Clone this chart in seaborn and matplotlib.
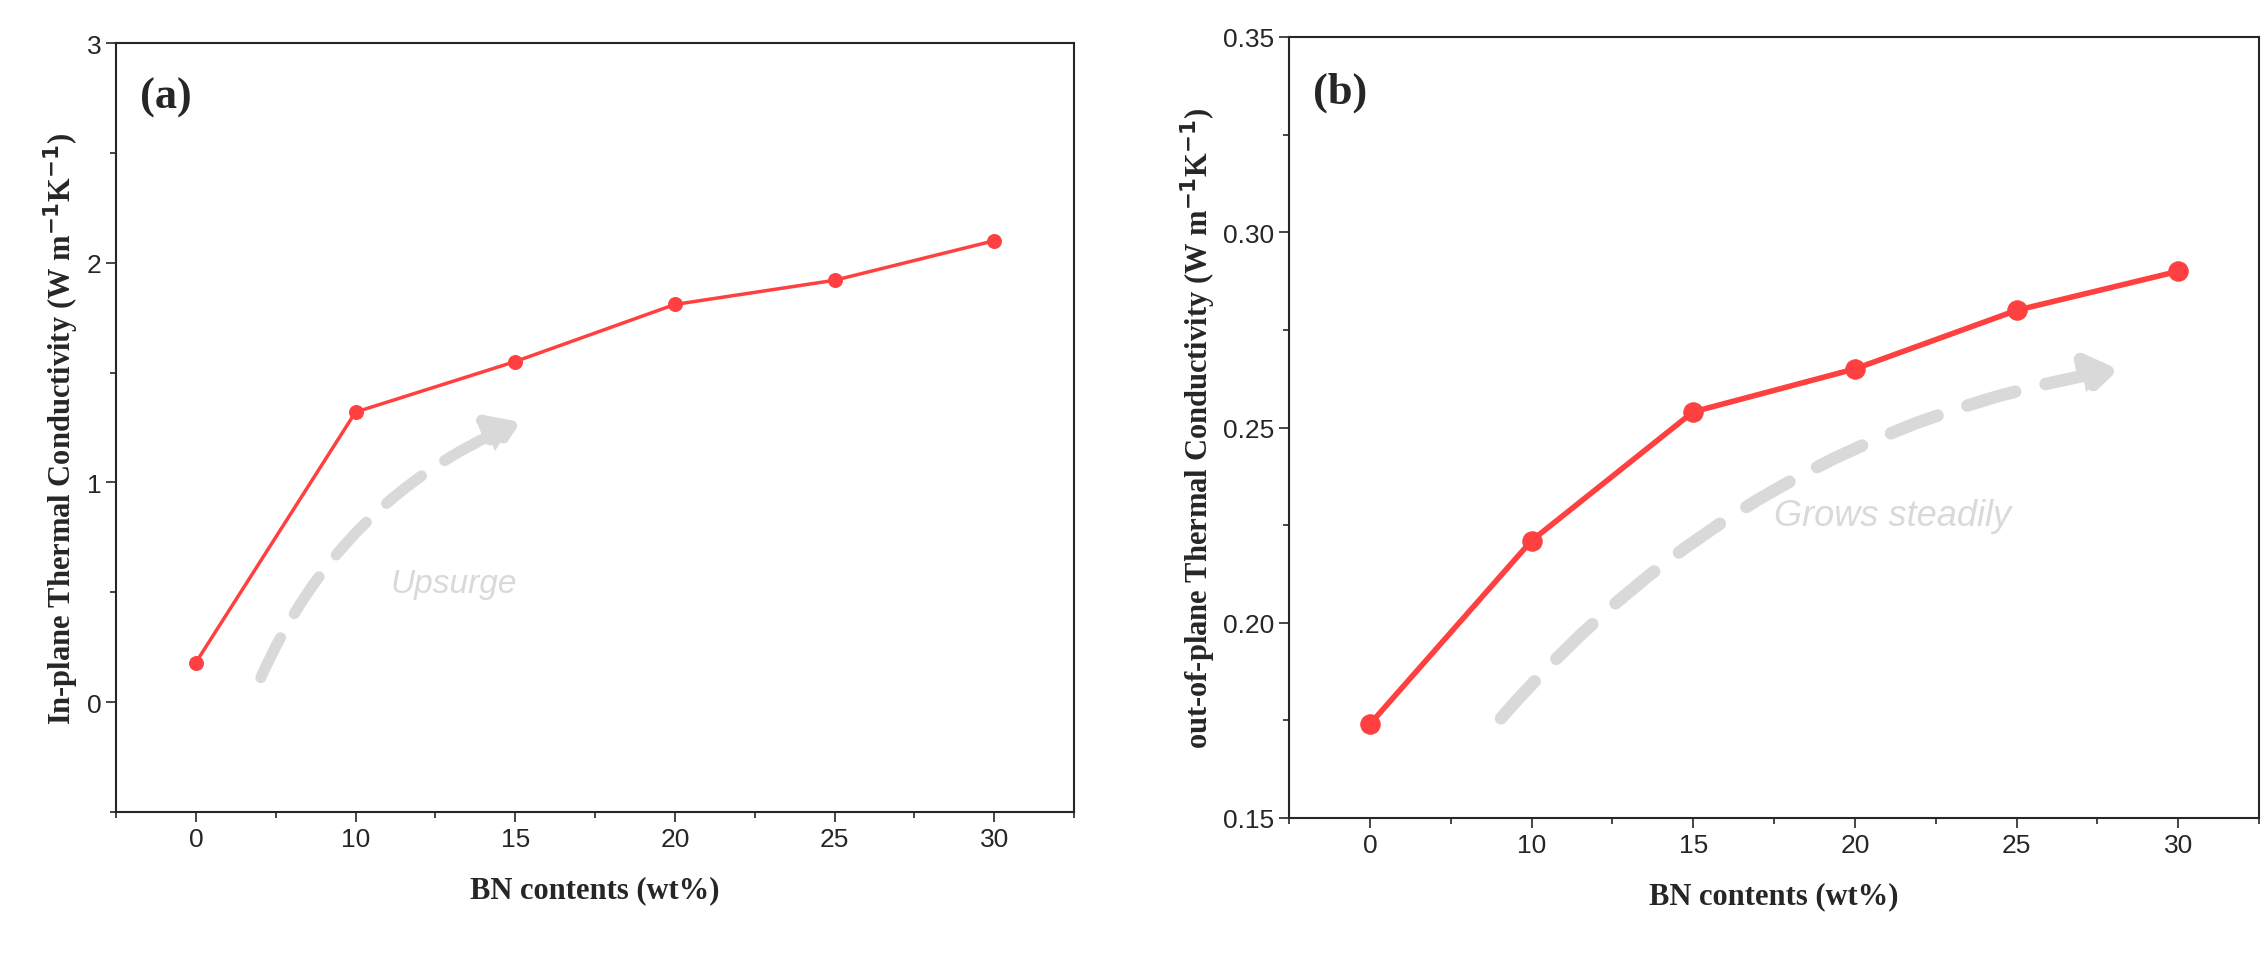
import matplotlib
matplotlib.use("Agg")
import matplotlib.pyplot as plt
import seaborn as sns
import pandas as pd
from matplotlib.patches import FancyArrowPatch
from matplotlib.ticker import AutoMinorLocator

sns.set_theme(style="ticks")
plt.rcParams['font.family'] = ['Liberation Sans', 'DejaVu Sans']

categories = ["0", "10", "15", "20", "25", "30"]
in_plane = [0.18, 1.32, 1.55, 1.81, 1.92, 2.10]
out_plane = [0.174, 0.221, 0.254, 0.265, 0.280, 0.290]

fig = plt.figure(figsize=(22.65, 9.54), dpi=100)
ax1 = fig.add_axes([116/2265, 1-813/954, (1074-116)/2265, (813-44)/954])
ax2 = fig.add_axes([1289/2265, 1-819/954, (2259-1289)/2265, (819-38)/954])

red = "#ff4040"
serif = ['Liberation Serif', 'DejaVu Serif']
for ax, vals, lw, ms in [(ax1, in_plane, 2.5, 10), (ax2, out_plane, 4, 14)]:
    df = pd.DataFrame({"x": range(len(categories)), "y": vals})
    sns.lineplot(data=df, x="x", y="y", ax=ax, color=red, lw=lw, marker="o",
                 markersize=ms, markeredgecolor=red)
    ax.set_xlim(-0.5, 5.5)
    ax.set_xticks(range(len(categories)))
    ax.set_xticklabels(categories)
    ax.xaxis.set_minor_locator(AutoMinorLocator(2))
    ax.yaxis.set_minor_locator(AutoMinorLocator(2))
    ax.tick_params(which="both", direction="out", labelsize=19, width=1.2)
    ax.tick_params(which="major", length=7)
    ax.tick_params(which="minor", length=4)
    for s in ax.spines.values():
        s.set_linewidth(1.5)
    ax.set_xlabel("BN contents (wt%)", fontsize=22, fontweight="bold", family=serif, labelpad=18)

ax1.set_ylim(-0.5, 3)
ax1.set_yticks([0, 1, 2, 3])
ax1.set_ylabel("In-plane Thermal Conductivity (W m$^{\\mathbf{-1}}$K$^{\\mathbf{-1}}$)",
               fontsize=22, fontweight="bold", family=serif)
ax2.set_ylim(0.15, 0.35)
ax2.set_yticks([0.15, 0.20, 0.25, 0.30, 0.35])
ax2.set_yticklabels(["0.15", "0.20", "0.25", "0.30", "0.35"])
ax2.set_ylabel("out-of-plane Thermal Conductivity (W m$^{\\mathbf{-1}}$K$^{\\mathbf{-1}}$)",
               fontsize=22, fontweight="bold", family=serif)

for ax, lab in [(ax1, "(a)"), (ax2, "(b)")]:
    ax.text(0.025, 0.93, lab, transform=ax.transAxes, fontsize=32, fontweight="bold",
            family=serif, va="center")

gray = "#d9d9d9"
a1 = FancyArrowPatch((0.4, 0.1), (2.05, 1.28), connectionstyle="arc3,rad=-0.2",
                     arrowstyle="-|>,head_length=12,head_width=8", color=gray,
                     lw=8, linestyle=(0, (4, 2.5)), mutation_scale=1.5)
ax1.add_patch(a1)
ax1.text(1.22, 0.5, "Upsurge", fontsize=24, color=gray, style="italic")
a2 = FancyArrowPatch((0.8, 0.175), (4.65, 0.265), connectionstyle="arc3,rad=-0.18",
                     arrowstyle="-|>,head_length=12,head_width=8", color=gray,
                     lw=9, linestyle=(0, (4, 2.5)), mutation_scale=1.5)
ax2.add_patch(a2)
ax2.text(2.5, 0.225, "Grows steadily", fontsize=26, color=gray, style="italic")

fig.savefig("out.png", dpi=100)
